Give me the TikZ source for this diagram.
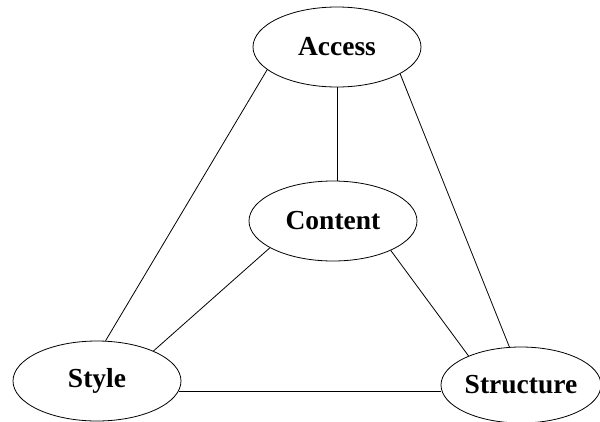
\documentclass[tikz,border=0pt]{standalone}
\usepackage{fontspec}
\setmainfont{Liberation Serif}
\usetikzlibrary{shapes.geometric}
\begin{document}
\begin{tikzpicture}[x=1pt,y=-1pt,
  topic/.style={ellipse, draw, line width=0.8pt, inner sep=0pt,
    minimum width=168pt, minimum height=80pt,
    font=\fontsize{27.5}{30}\selectfont\bfseries},
  link/.style={line width=0.8pt}]
  \useasboundingbox (0,0) rectangle (600,421);
  \node[topic] (access)    at (337,47)  {Access};
  \node[topic] (content)   at (333,221) {Content};
  \node[topic] (style)     at (97,381)  {Style};
  \node[topic, minimum width=160pt, minimum height=76pt] (structure) at (521,385) {Structure};
  \draw[link] (access.198) -- (style.78);
  \draw[link] (access.south) -- (access.south |- content.north);
  \draw[link] (access.337) -- (structure.107);
  \draw[link] (content.203) -- (style.28);
  \draw[link] (content.333) -- (structure.151);
  \draw[link] (style.-7) -- (style.-7 -| structure.west);
\end{tikzpicture}
\end{document}
